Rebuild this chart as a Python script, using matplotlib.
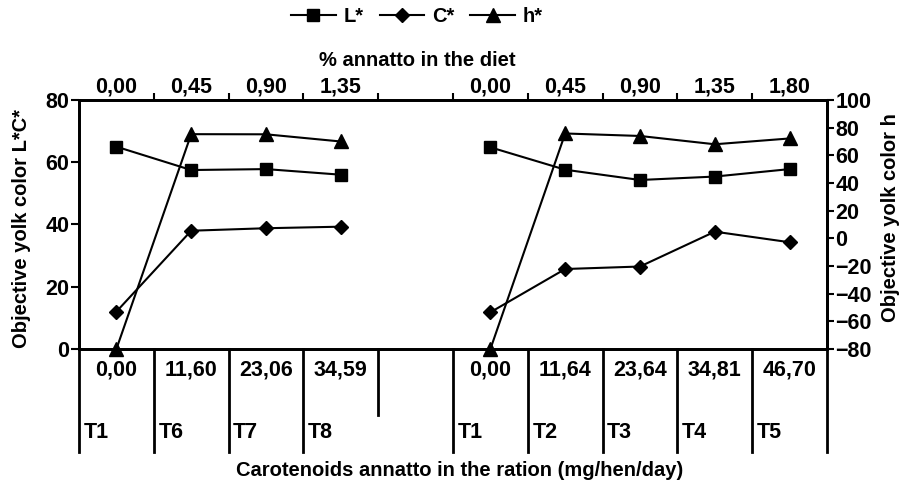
import matplotlib
matplotlib.use("Agg")
import matplotlib.pyplot as plt
from matplotlib.lines import Line2D

plt.rcParams["font.family"] = ["Liberation Sans", "DejaVu Sans"]
plt.rcParams["font.size"] = 14.5
plt.rcParams["font.weight"] = "bold"

# slots 0..3 = first trial, slot 4 empty, slots 5..9 = second trial
pos_g1 = [0, 1, 2, 3]
pos_g2 = [5, 6, 7, 8, 9]

L_g1 = [65, 57.5, 57.8, 56]
C_g1 = [12, 38, 38.8, 39.3]
h_g1 = [-80, 75.3, 75.2, 70]

L_g2 = [64.8, 57.6, 54.3, 55.4, 57.8]
C_g2 = [11.8, 25.7, 26.5, 37.7, 34.3]
h_g2 = [-80, 75.8, 74, 68, 72.2]

pct_labels = ["0,00", "0,45", "0,90", "1,35", "", "0,00", "0,45", "0,90", "1,35", "1,80"]
mg_labels = ["0,00", "11,60", "23,06", "34,59", "", "0,00", "11,64", "23,64", "34,81", "46,70"]
trt_labels = ["T1", "T6", "T7", "T8", "", "T1", "T2", "T3", "T4", "T5"]

W, H = 902, 496
fig = plt.figure(figsize=(W / 100, H / 100), dpi=100)
ax = fig.add_axes([79 / W, 1 - 349 / H, (827 - 79) / W, 249 / H])
ax2 = ax.twinx()
axt = ax.twiny()

lw = 1.5
sp_lw = 2.0
tick_fs = 15.5
style = dict(color="black", lw=lw)
for xs, ys in [(pos_g1, L_g1), (pos_g2, L_g2)]:
    ax.plot(xs, ys, marker="s", ms=8.5, clip_on=False, zorder=5, **style)
for xs, ys in [(pos_g1, C_g1), (pos_g2, C_g2)]:
    ax.plot(xs, ys, marker="D", ms=7, clip_on=False, zorder=5, **style)
for xs, ys in [(pos_g1, h_g1), (pos_g2, h_g2)]:
    ax2.plot(xs, ys, marker="^", ms=9.5, clip_on=False, zorder=5, **style)

ax.set_xlim(-0.5, 9.5)
ax.set_ylim(0, 80)
ax2.set_ylim(-80, 100)
axt.set_xlim(-0.5, 9.5)

ax.set_yticks([0, 20, 40, 60, 80])
ax2.set_yticks(list(range(-80, 101, 20)))
ax.set_xticks([])

# top axis: ticks on the slot borders, labels in the slot centres
axt.set_xticks([i + 0.5 for i in range(9)])
axt.set_xticklabels([])
axt.set_xticks(range(10), minor=True)
axt.set_xticklabels(pct_labels, minor=True)
axt.tick_params(axis="x", which="major", length=5, width=1.5, direction="out")
axt.tick_params(axis="x", which="minor", length=0, pad=2, labelsize=tick_fs)

ax.tick_params(axis="y", length=6, width=1.5, direction="out", pad=1, labelsize=tick_fs)
ax2.tick_params(axis="y", length=5, width=1.5, direction="out", pad=1, labelsize=tick_fs)

for a in (ax, ax2, axt):
    for s in a.spines.values():
        s.set_linewidth(sp_lw)
ax2.spines["top"].set_visible(False)
ax2.spines["bottom"].set_visible(False)
ax2.spines["left"].set_visible(False)

# table under the plot
tr = ax.get_xaxis_transform()
full = -103 / 249
short = -66 / 249
for b in [i - 0.5 for i in range(11)]:
    low = short if b == 3.5 else full
    ax.plot([b, b], [0, low], transform=tr, color="black", lw=sp_lw, clip_on=False)
for i in range(10):
    ax.text(i, -21 / 249, mg_labels[i], transform=tr, ha="center", va="center",
            fontsize=tick_fs)
    ax.text(i - 0.44, -84 / 249, trt_labels[i], transform=tr, ha="left", va="center",
            fontsize=tick_fs)

fig.text(417 / W, 1 - 60 / H, "% annatto in the diet", ha="center", va="center")
fig.text(460 / W, 1 - 470 / H, "Carotenoids annatto in the ration (mg/hen/day)",
         ha="center", va="center")
fig.text(22 / W, 1 - 229 / H, "Objective yolk color L*C*", rotation=90,
         ha="center", va="center")
fig.text(890 / W, 1 - 218 / H, "Objective yolk color h", rotation=90,
         ha="center", va="center")

handles = [
    Line2D([], [], marker="s", ms=8.5, **style),
    Line2D([], [], marker="D", ms=7, **style),
    Line2D([], [], marker="^", ms=9.5, **style),
]
fig.legend(handles, ["L*", "C*", "h*"], loc="center", ncol=3,
           bbox_to_anchor=(417 / W, 1 - 17 / H), frameon=False,
           handlelength=2.2, handletextpad=0.4, columnspacing=0.8)

fig.savefig("out.png", dpi=100)
